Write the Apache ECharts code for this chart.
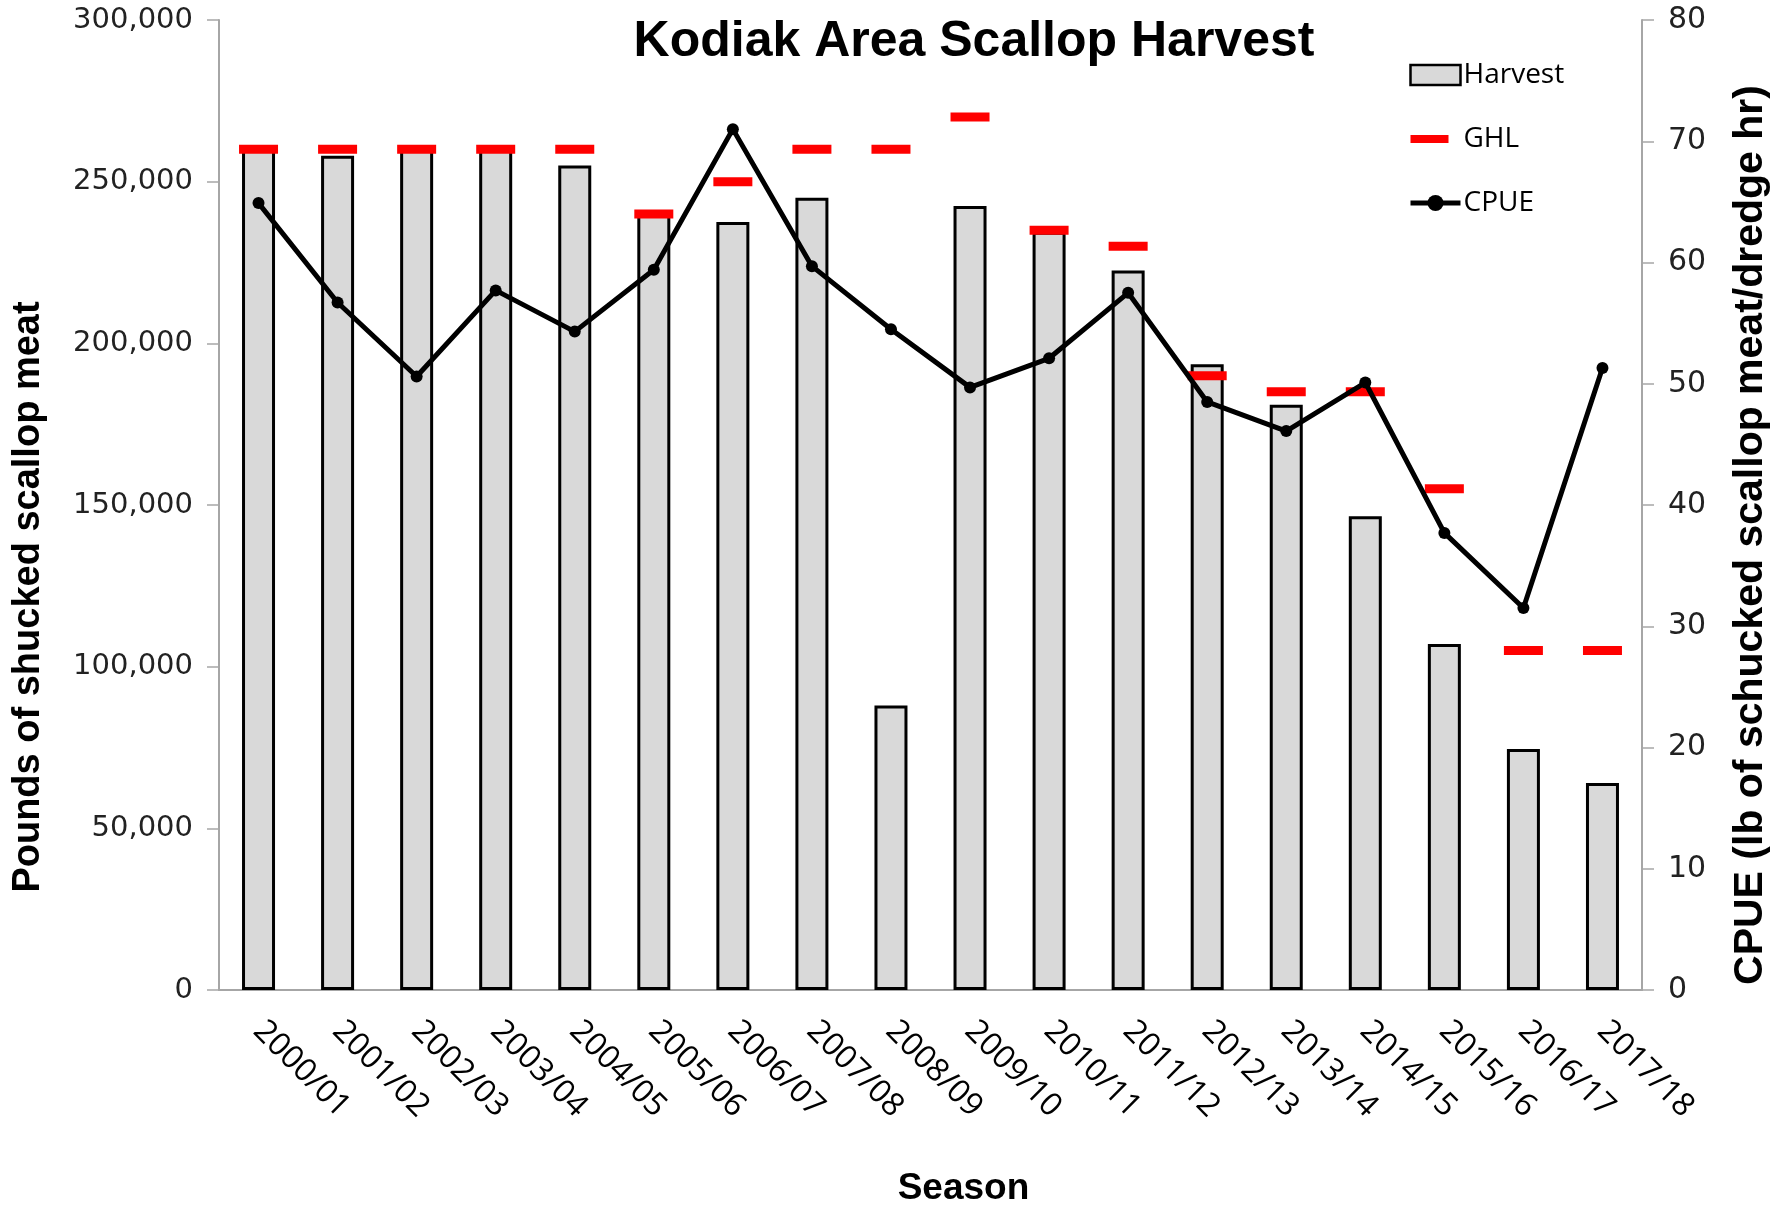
<!DOCTYPE html>
<html>
<head>
    <meta charset="utf-8">
    <title>Kodiak Area Scallop Harvest</title>
    <style>
        html, body { margin: 0; padding: 0; background: #fff; }
        #main { width: 1787px; height: 1205px; }
    </style>
</head>
<body>
<div id="main"></div>
<script src="https://cdn.jsdelivr.net/npm/echarts@6/dist/echarts.min.js"></script>
<script>
    // seasons on the x axis
    var seasons = ['2000/01', '2001/02', '2002/03', '2003/04', '2004/05', '2005/06',
        '2006/07', '2007/08', '2008/09', '2009/10', '2010/11', '2011/12',
        '2012/13', '2013/14', '2014/15', '2015/16', '2016/17', '2017/18'];
    // pounds harvested (bars)
    var harvest = [260000, 258000, 260000, 260000, 255000, 240000,
        237500, 245000, 88000, 242500, 234500, 222500,
        193500, 181000, 146500, 107000, 74500, 64000];
    // guideline harvest level (red dashes)
    var ghl = [260000, 260000, 260000, 260000, 260000, 240000,
        250000, 260000, 260000, 270000, 235000, 230000,
        190000, 185000, 185000, 155000, 105000, 105000];
    // catch per unit effort (right axis)
    var cpue = [64.9, 56.7, 50.6, 57.7, 54.3, 59.4,
        71.0, 59.7, 54.5, 49.7, 52.1, 57.5,
        48.5, 46.1, 50.1, 37.7, 31.5, 51.3];

    var axisGray = '#a6a6a6';
    var boldFont = 'Liberation Sans';

    var chart = echarts.init(document.getElementById('main'));
    chart.setOption({
        backgroundColor: '#fff',
        animation: false,
        title: {
            text: 'Kodiak Area Scallop Harvest',
            left: 969,
            top: 12,
            textAlign: 'center',
            textStyle: { fontFamily: boldFont, fontWeight: 'bold', fontSize: 50, color: '#000' }
        },
        legend: {
            orient: 'vertical',
            left: 1403,
            top: 56,
            itemWidth: 50,
            itemHeight: 20,
            itemGap: 36,
            textStyle: { fontFamily: 'Open Sans', fontSize: 28, color: '#000', padding: [0, 0, 0, -2] },
            data: [
                { name: 'Harvest', icon: 'rect', itemStyle: { borderColor: '#000', borderWidth: 2.5 } },
                { name: 'GHL', icon: 'path://M0,0 M50,20 M0,6 L38,6 L38,14 L0,14 Z' },
                { name: 'CPUE', lineStyle: { width: 5 } }
            ]
        },
        grid: { left: 219, right: 145, top: 20, bottom: 215, outerBoundsMode: 'none', containLabel: false },
        xAxis: {
            type: 'category',
            data: seasons,
            name: 'Season',
            nameLocation: 'middle',
            nameGap: 180,
            nameTextStyle: {
                fontFamily: boldFont, fontWeight: 'bold', fontSize: 37, color: '#000',
                padding: [0, 0, 0, 66]
            },
            axisLine: { lineStyle: { color: axisGray, width: 2 } },
            axisTick: { length: 11, lineStyle: { color: axisGray, width: 1.5 } },
            axisLabel: { rotate: -45, margin: 36, fontFamily: 'Open Sans', fontSize: 32, color: '#000' }
        },
        yAxis: [
            {
                type: 'value',
                min: 0,
                max: 300000,
                interval: 50000,
                name: 'Pounds of shucked scallop meat',
                nameLocation: 'middle',
                nameRotate: 90,
                nameGap: 171,
                nameTextStyle: {
                    fontFamily: boldFont, fontWeight: 'bold', fontSize: 38, color: '#000',
                    padding: [0, 184, 0, 0]
                },
                splitLine: { show: false },
                axisLine: { show: true, lineStyle: { color: axisGray, width: 2 } },
                axisTick: { show: true, length: 12, lineStyle: { color: axisGray, width: 1.5 } },
                axisLabel: {
                    margin: 26,
                    fontFamily: 'DejaVu Sans',
                    fontSize: 29,
                    color: '#222',
                    formatter: function (v) { return v.toLocaleString('en-US'); }
                }
            },
            {
                type: 'value',
                min: 0,
                max: 80,
                interval: 10,
                position: 'right',
                name: 'CPUE (lb of schucked scallop meat/dredge hr)',
                nameLocation: 'middle',
                nameRotate: 90,
                nameGap: 88,
                nameTextStyle: {
                    fontFamily: boldFont, fontWeight: 'bold', fontSize: 41, color: '#000',
                    padding: [0, 60, 0, 0]
                },
                splitLine: { show: false },
                axisLine: { show: true, lineStyle: { color: axisGray, width: 2 } },
                axisTick: { show: true, length: 12, lineStyle: { color: axisGray, width: 1.5 } },
                axisLabel: { margin: 26, fontFamily: 'DejaVu Sans', fontSize: 30, color: '#222' }
            }
        ],
        series: [
            {
                name: 'Harvest',
                type: 'bar',
                data: harvest,
                barWidth: 33,
                itemStyle: { color: '#d9d9d9', borderColor: '#000', borderWidth: 3 },
                z: 2
            },
            {
                name: 'GHL',
                type: 'scatter',
                data: ghl,
                symbol: 'rect',
                symbolSize: [39, 9],
                itemStyle: { color: '#ff0000', opacity: 1 },
                z: 3
            },
            {
                name: 'CPUE',
                type: 'line',
                yAxisIndex: 1,
                data: cpue,
                symbol: 'circle',
                symbolSize: 12,
                lineStyle: { color: '#000', width: 5 },
                itemStyle: { color: '#000' },
                z: 4
            }
        ]
    });
</script>
</body>
</html>
